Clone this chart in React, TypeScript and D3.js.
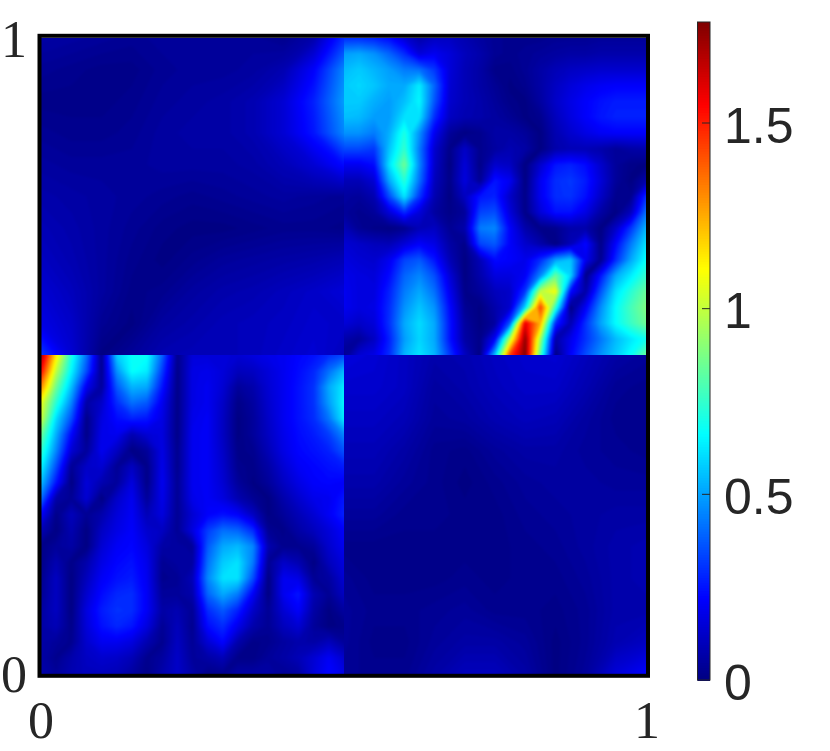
import React from "react";
import * as d3 from "d3";

// values, rows run top to bottom
const upperRight = [
  [.30,.30,.28,.24,.15,.08,.12,.12,.09,.06,.04,.03,.03,.03,.04,.04,.04,.05,.05,.05,.05],
  [.50,.52,.48,.40,.30,.16,.20,.16,.11,.08,.04,.03,.04,.05,.06,.07,.07,.08,.08,.08,.08],
  [.55,.58,.54,.50,.44,.42,.32,.16,.10,.07,.02,.02,.04,.07,.10,.12,.13,.14,.14,.14,.14],
  [.58,.60,.57,.52,.52,.64,.40,.15,.10,.07,.04,.01,.03,.07,.12,.16,.19,.21,.22,.22,.22],
  [.58,.58,.53,.50,.56,.66,.37,.14,.10,.08,.05,.02,.01,.06,.13,.18,.22,.25,.27,.27,.27],
  [.56,.55,.50,.50,.62,.62,.30,.12,.09,.08,.06,.04,.01,.03,.11,.17,.22,.26,.28,.28,.28],
  [.48,.48,.44,.53,.72,.48,.20,.05,.01,.03,.07,.07,.05,.01,.09,.14,.18,.21,.22,.22,.22],
  [.35,.35,.32,.57,.76,.44,.14,.02,.13,.03,.06,.09,.07,.01,.08,.10,.10,.08,.05,.07,.08],
  [.20,.20,.24,.62,.86,.46,.13,.01,.16,.02,.14,.12,.01,.14,.26,.28,.24,.14,.05,.02,.01],
  [.10,.10,.15,.52,.74,.42,.11,.02,.17,.04,.26,.20,.01,.20,.30,.32,.27,.16,.05,.01,.08],
  [.06,.05,.09,.36,.63,.32,.09,.01,.12,.26,.28,.13,.02,.20,.30,.31,.25,.13,.03,.03,.30],
  [.05,.03,.05,.16,.30,.16,.06,.02,.05,.34,.36,.16,.02,.16,.25,.25,.18,.07,.01,.11,.42],
  [.10,.04,.02,.01,.03,.10,.12,.04,.08,.44,.46,.22,.08,.02,.03,.08,.08,.01,.13,.32,.54],
  [.15,.13,.11,.10,.16,.22,.18,.07,.02,.34,.38,.22,.14,.08,.01,.10,.24,.02,.23,.44,.62],
  [.17,.15,.14,.20,.34,.38,.26,.10,.01,.10,.24,.22,.19,.30,.50,.57,.20,.03,.30,.52,.68],
  [.19,.17,.16,.24,.40,.46,.36,.16,.01,.08,.17,.17,.21,.46,.85,.60,.02,.26,.52,.64,.76],
  [.20,.17,.17,.28,.44,.52,.42,.20,.02,.05,.11,.13,.32,1.00,1.10,.24,.07,.37,.62,.74,.85],
  [.20,.17,.18,.30,.48,.57,.48,.24,.04,.01,.08,.14,.60,1.45,.75,.01,.21,.47,.67,.79,.89],
  [.16,.13,.16,.31,.52,.61,.52,.26,.06,.01,.06,.38,1.60,1.25,.30,.09,.31,.51,.67,.77,.86],
  [.08,.05,.12,.28,.50,.60,.52,.26,.07,.02,.22,1.00,1.75,.95,.07,.19,.31,.43,.55,.63,.70],
  [.03,.15,.18,.30,.54,.62,.54,.32,.12,.01,.56,1.45,1.77,.80,.01,.22,.36,.48,.58,.68,.85],
];

const lowerLeft = [
  [1.72,1.15,.72,.42,.03,.58,.68,.68,.40,.03,.16,.16,.16,.15,.17,.19,.20,.23,.25,.30,.35],
  [1.55,1.00,.66,.36,.03,.48,.68,.64,.33,.02,.18,.19,.16,.11,.12,.16,.20,.24,.29,.42,.55],
  [1.32,.86,.56,.20,.05,.38,.54,.52,.26,.02,.18,.20,.15,.05,.08,.15,.20,.25,.31,.52,.64],
  [1.08,.74,.46,.07,.13,.30,.42,.38,.20,.02,.18,.20,.13,.02,.06,.14,.20,.25,.31,.50,.66],
  [1.02,.61,.36,.02,.17,.24,.28,.26,.18,.02,.19,.21,.12,.01,.05,.13,.20,.25,.30,.43,.64],
  [.86,.53,.23,.02,.19,.20,.09,.15,.17,.02,.20,.21,.12,.01,.05,.12,.19,.24,.27,.33,.46],
  [.76,.46,.15,.05,.20,.12,.01,.05,.18,.03,.20,.21,.13,.02,.03,.10,.18,.23,.25,.28,.37],
  [.66,.36,.04,.13,.15,.04,.12,.02,.19,.03,.20,.21,.14,.03,.02,.07,.15,.21,.23,.25,.27],
  [.56,.26,.01,.16,.09,.05,.17,.02,.20,.04,.20,.21,.15,.05,.01,.05,.12,.18,.22,.23,.22],
  [.42,.07,.04,.15,.01,.13,.20,.05,.19,.04,.19,.21,.17,.09,.04,.01,.08,.14,.19,.20,.26],
  [.22,.02,.11,.04,.08,.16,.21,.10,.17,.04,.15,.22,.25,.22,.12,.01,.05,.10,.15,.21,.28],
  [.10,.01,.09,.01,.12,.18,.22,.14,.12,.04,.17,.33,.42,.40,.30,.04,.02,.07,.11,.16,.22],
  [.02,.05,.07,.01,.15,.21,.23,.17,.07,.06,.05,.38,.52,.55,.46,.09,.03,.03,.05,.14,.20],
  [.02,.09,.02,.08,.18,.23,.25,.19,.04,.06,.06,.42,.58,.62,.44,.04,.13,.09,.01,.11,.17],
  [.03,.12,.01,.11,.21,.25,.27,.20,.03,.04,.10,.46,.62,.62,.36,.01,.20,.18,.04,.06,.15],
  [.04,.12,.01,.14,.24,.29,.30,.21,.05,.05,.08,.40,.52,.44,.21,.01,.20,.26,.09,.04,.12],
  [.06,.12,.01,.17,.27,.31,.30,.21,.07,.09,.04,.30,.38,.28,.13,.04,.15,.22,.07,.01,.06],
  [.07,.10,.02,.16,.25,.29,.26,.17,.04,.11,.03,.24,.30,.19,.08,.04,.11,.15,.05,.01,.02],
  [.07,.05,.03,.14,.20,.20,.17,.09,.03,.12,.04,.15,.23,.08,.02,.03,.06,.08,.07,.11,.05],
  [.07,.03,.08,.12,.14,.13,.10,.03,.06,.13,.05,.07,.10,.02,.02,.05,.07,.10,.15,.21,.14],
  [.08,.05,.09,.11,.11,.10,.06,.02,.08,.13,.07,.02,.03,.07,.07,.07,.04,.06,.16,.23,.18],
];

const upperLeft = [
  [.07,.06,.05,.04,.05,.05,.05,.05,.03,.08,.30],
  [.04,.03,.02,.02,.04,.05,.05,.06,.09,.22,.46],
  [.02,.02,.02,.03,.05,.06,.07,.09,.15,.28,.50],
  [.04,.03,.03,.04,.06,.07,.07,.09,.15,.26,.46],
  [.06,.05,.05,.05,.06,.06,.06,.07,.10,.15,.24],
  [.08,.07,.06,.05,.04,.03,.04,.05,.06,.05,.04],
  [.10,.08,.06,.04,.02,.01,.01,.02,.03,.03,.02],
  [.12,.09,.06,.03,.01,.03,.05,.06,.07,.08,.10],
  [.15,.11,.06,.02,.03,.06,.08,.09,.11,.13,.16],
  [.18,.13,.04,.01,.06,.08,.10,.11,.12,.14,.13],
  [.32,.15,.01,.05,.09,.10,.10,.11,.13,.15,.11],
];

const lowerRight = [
  [.17,.15,.12,.08,.09,.12,.14,.15,.11,.07,.05],
  [.14,.14,.12,.06,.08,.11,.13,.13,.09,.04,.03],
  [.12,.12,.10,.05,.06,.09,.11,.10,.06,.03,.03],
  [.10,.10,.07,.03,.02,.05,.07,.07,.05,.04,.03],
  [.08,.08,.05,.03,.01,.03,.05,.06,.06,.05,.05],
  [.05,.05,.03,.03,.02,.02,.04,.05,.06,.07,.07],
  [.02,.02,.02,.02,.02,.02,.03,.04,.06,.08,.09],
  [.04,.02,.02,.02,.03,.02,.03,.03,.05,.08,.09],
  [.05,.03,.03,.04,.05,.03,.03,.02,.04,.08,.08],
  [.05,.02,.02,.05,.07,.07,.05,.01,.04,.09,.12],
  [.04,.03,.03,.07,.11,.11,.07,.01,.05,.16,.22],
];

const colorTicks = [0, 0.5, 1, 1.5];
const colorMax = 1.772;
const jetStops = ["#000080", "#0000ff", "#00ffff", "#80ff80", "#ffff00", "#ff0000", "#800000"];
const jetAt = [0, 0.125, 0.375, 0.5, 0.625, 0.875, 1];

const color = d3
  .scaleLinear<string>()
  .domain(jetAt.map((d) => d * colorMax))
  .range(jetStops)
  .clamp(true);

const x = d3.scaleLinear().domain([0, 1]).range([41, 646]);
const y = d3.scaleLinear().domain([0, 1]).range([674, 38]);
const splitX = 344;
const splitY = 355;
const barY = d3.scaleLinear().domain([0, colorMax]).range([680, 22]);

const levels = d3.range(0.005, colorMax, 0.01);

const Quadrant = ({ id, rows, x0, x1, y0, y1 }: any) => {
  const ny = rows.length;
  const nx = rows[0].length;
  const sx = d3.scaleLinear().domain([0.5, nx - 0.5]).range([x0, x1]);
  const sy = d3.scaleLinear().domain([0.5, ny - 0.5]).range([y0, y1]);
  const polys = d3.contours().size([nx, ny]).thresholds(levels)(rows.flat());
  const path = d3.geoPath(
    d3.geoTransform({
      point(a: number, b: number) {
        (this as any).stream.point(sx(a), sy(b));
      },
    })
  );
  return (
    <g clipPath={`url(#${id})`}>
      <clipPath id={id}>
        <rect x={x0} y={y0} width={x1 - x0} height={y1 - y0} />
      </clipPath>
      <g filter="url(#soft)">
        <rect x={x0 - 12} y={y0 - 12} width={x1 - x0 + 24} height={y1 - y0 + 24} fill={color(0)} />
        {polys
          .filter((p) => p.coordinates.length > 0)
          .map((p) => (
            <path key={p.value} d={path(p as any) || ""} fill={color(p.value)} />
          ))}
      </g>
    </g>
  );
};

const App = () => {
  const barSteps = d3.range(0, colorMax, colorMax / 256);
  const sans = "'Liberation Sans', Arial, sans-serif";
  const serif = "'Liberation Serif', 'Times New Roman', serif";
  return (
    <svg width={830} height={751} style={{ position: "absolute", left: 0, top: 0 }}>
      <defs>
        <filter id="soft" colorInterpolationFilters="sRGB" x="-10%" y="-10%" width="120%" height="120%">
          <feGaussianBlur stdDeviation={1.2} />
        </filter>
      </defs>

      <Quadrant id="q-ul" rows={upperLeft} x0={x(0)} x1={splitX} y0={y(1)} y1={splitY} />
      <Quadrant id="q-ur" rows={upperRight} x0={splitX} x1={x(1)} y0={y(1)} y1={splitY} />
      <Quadrant id="q-ll" rows={lowerLeft} x0={x(0)} x1={splitX} y0={splitY} y1={y(0)} />
      <Quadrant id="q-lr" rows={lowerRight} x0={splitX} x1={x(1)} y0={splitY} y1={y(0)} />

      {/* frame */}
      <rect x={39.5} y={35.8} width={608.5} height={640} fill="none" stroke="#000" strokeWidth={4} />

      <g fontFamily={serif} fontSize={52} fill="#262626" textAnchor="middle">
        <text x={14} y={57}>1</text>
        <text x={14} y={692}>0</text>
        <text x={41} y={738}>0</text>
        <text x={647} y={738}>1</text>
      </g>

      {/* colorbar */}
      {barSteps.map((v) => (
        <rect
          key={v}
          x={697.5}
          y={barY(v + colorMax / 256)}
          width={12.5}
          height={barY(v) - barY(v + colorMax / 256) + 1}
          fill={color(v + colorMax / 512)}
        />
      ))}
      <rect x={697.5} y={22} width={12.5} height={658} fill="none" stroke="#262626" strokeWidth={1} />
      {colorTicks.map((t) => (
        <g key={t}>
          {t > 0 && (
            <line x1={702} x2={710} y1={barY(t)} y2={barY(t)} stroke="#262626" strokeWidth={1} />
          )}
          <text x={724} y={barY(t) + 19.5} fontFamily={sans} fontSize={50} fill="#262626">
            {t}
          </text>
        </g>
      ))}
    </svg>
  );
};

export default App;
